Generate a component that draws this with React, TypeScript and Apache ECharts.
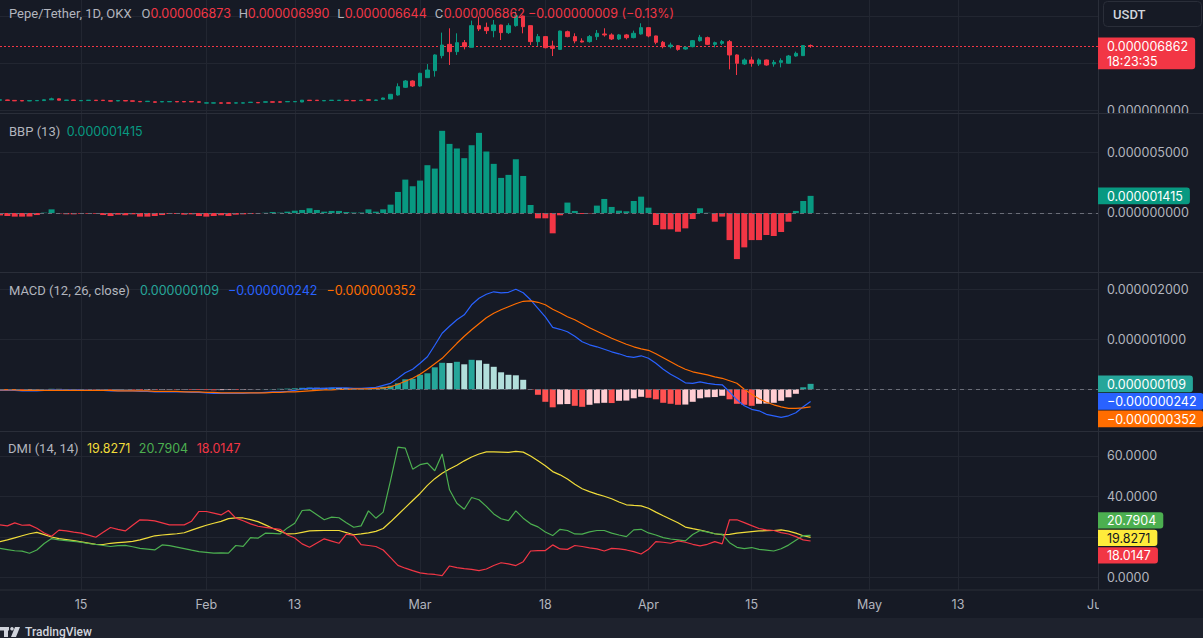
import React, { useEffect, useRef } from "react";
import * as echarts from "echarts";

// ---------------- DATA (prices and BBP/MACD in micro‑USDT, i.e. ×1e-6) ----------------
const FIRST_DATE = "2024-01-04";
const LAST_DATE = "2024-06-01";

const OPEN = [
  1.10, 1.12, 1.08, 1.06, 1.02, 1.04, 1.06, 1.14, 1.24, 1.08,
  1.12, 1.04, 1.07, 1.10, 1.10, 1.04, 1.02, 1.06, 1.03, 0.97,
  0.95, 0.93, 0.92, 0.93, 0.96, 0.96, 0.96, 0.93, 0.79, 0.79,
  0.82, 0.82, 0.79, 0.79, 0.85, 0.86, 0.89, 0.93, 0.93, 0.93,
  0.93, 0.91, 1.10, 1.10, 1.03, 1.07, 1.07, 1.10, 1.07, 1.06,
  1.14, 1.08, 1.19, 1.23, 1.65, 2.46, 3.13, 2.60, 3.48, 4.22,
  5.81, 7.00, 6.23, 7.18, 6.69, 8.98, 8.80, 8.45, 9.05, 8.24,
  8.98, 10.00, 8.98, 7.29, 7.82, 6.83, 6.47, 8.34, 7.82, 7.36,
  7.29, 7.82, 8.10, 8.00, 7.57, 8.00, 7.71, 8.10, 8.77, 7.89,
  7.22, 6.76, 6.86, 6.51, 6.76, 7.39, 7.71, 7.00, 7.11, 7.29,
  5.88, 4.93, 5.35, 4.93, 5.35, 4.93, 5.10, 5.00, 5.77, 5.81, 6.873,
];
const HIGH = [
  1.16, 1.14, 1.10, 1.08, 1.08, 1.09, 1.17, 1.36, 1.27, 1.13,
  1.14, 1.09, 1.12, 1.12, 1.12, 1.06, 1.08, 1.08, 1.05, 0.99,
  1.01, 0.95, 0.97, 0.98, 0.98, 0.98, 0.98, 0.95, 0.84, 0.84,
  0.84, 0.84, 0.84, 0.84, 0.91, 0.88, 0.95, 0.95, 0.95, 0.98,
  0.98, 1.12, 1.12, 1.12, 1.09, 1.12, 1.12, 1.12, 1.09, 1.12,
  1.22, 1.14, 1.36, 1.76, 2.88, 3.23, 3.20, 4.00, 4.92, 5.95,
  8.24, 8.70, 8.17, 7.46, 9.51, 9.93, 9.30, 9.58, 9.08, 9.23,
  10.46, 10.05, 9.00, 8.10, 7.85, 7.39, 8.45, 8.45, 8.17, 7.64,
  7.99, 8.52, 8.70, 8.17, 8.10, 8.10, 8.45, 9.23, 8.80, 7.92,
  7.36, 7.18, 6.93, 6.76, 7.46, 8.00, 7.82, 7.29, 7.46, 7.46,
  5.95, 5.52, 5.70, 5.52, 5.40, 5.35, 5.52, 5.88, 6.23, 6.93, 6.990,
];
const LOW = [
  1.08, 1.06, 1.01, 1.00, 1.00, 1.02, 1.04, 1.12, 1.08, 1.06,
  1.05, 1.02, 1.05, 1.04, 1.04, 0.98, 1.00, 1.00, 0.97, 0.91,
  0.93, 0.86, 0.90, 0.91, 0.90, 0.90, 0.90, 0.87, 0.77, 0.77,
  0.76, 0.76, 0.77, 0.77, 0.83, 0.80, 0.87, 0.87, 0.87, 0.91,
  0.91, 0.89, 1.04, 1.04, 1.01, 1.05, 1.05, 1.04, 1.01, 1.04,
  1.08, 1.06, 1.17, 1.20, 1.58, 2.40, 2.50, 2.53, 3.45, 3.59,
  5.52, 4.82, 5.88, 6.47, 6.69, 8.41, 8.10, 7.75, 7.46, 8.10,
  8.87, 8.17, 6.93, 6.83, 6.58, 5.77, 6.45, 7.75, 7.11, 7.20,
  7.18, 7.46, 7.82, 7.46, 7.46, 7.53, 7.64, 8.03, 7.75, 7.01,
  6.58, 6.58, 6.33, 6.44, 6.69, 7.29, 6.93, 6.69, 6.93, 4.36,
  3.76, 4.82, 4.64, 4.72, 4.75, 4.64, 4.57, 4.93, 5.70, 5.77, 6.644,
];
const CLOSE = [
  1.14, 1.08, 1.03, 1.02, 1.06, 1.07, 1.14, 1.24, 1.10, 1.11,
  1.07, 1.07, 1.10, 1.06, 1.06, 1.00, 1.06, 1.02, 0.99, 0.93,
  0.99, 0.88, 0.95, 0.96, 0.92, 0.92, 0.92, 0.89, 0.82, 0.82,
  0.78, 0.78, 0.82, 0.82, 0.89, 0.82, 0.93, 0.89, 0.89, 0.96,
  0.96, 1.10, 1.06, 1.06, 1.07, 1.10, 1.10, 1.06, 1.03, 1.10,
  1.10, 1.12, 1.33, 1.72, 2.53, 3.13, 2.60, 3.94, 4.29, 5.88,
  6.93, 6.23, 7.18, 6.76, 8.98, 8.63, 8.45, 9.05, 8.24, 8.98,
  10.03, 8.87, 7.29, 7.82, 6.65, 6.58, 8.41, 7.82, 7.36, 7.25,
  7.82, 8.17, 8.00, 7.57, 8.00, 7.71, 8.17, 8.77, 7.89, 7.22,
  6.76, 6.93, 6.47, 6.69, 7.39, 7.75, 7.00, 7.18, 7.29, 5.88,
  5.00, 5.35, 5.00, 5.35, 4.82, 5.10, 5.28, 5.77, 6.05, 6.871, 6.862,
];
const BBP = [
  -0.20, -0.25, -0.30, -0.30, -0.30, -0.17, 0.03, 0.30, -0.03, -0.11,
  -0.11, -0.06, -0.06, -0.06, -0.17, -0.25, -0.14, -0.19, -0.11, -0.30,
  -0.30, -0.25, -0.17, -0.08, -0.08, -0.14, -0.11, -0.25, -0.30, -0.25,
  -0.19, -0.25, -0.14, -0.11, -0.08, -0.03, 0.02, 0.08, 0.03, 0.11,
  0.19, 0.25, 0.39, 0.25, 0.11, 0.17, 0.17, 0.08, 0.04, 0.04,
  0.30, 0.11, 0.30, 0.69, 1.74, 2.76, 2.21, 2.68, 3.95, 3.67,
  6.79, 5.71, 5.33, 4.53, 5.60, 6.62, 5.08, 4.06, 2.90, 3.15,
  4.44, 3.06, 0.66, -0.44, -0.44, -1.68, -0.19, 0.86, 0.17, -0.08,
  -0.03, 0.61, 1.16, 0.50, 0.19, 0.14, 0.99, 1.35, 0.44, -0.99,
  -1.35, -1.35, -1.55, -1.27, -0.50, 0.39, 0.02, -0.72, -0.30, -2.24,
  -3.81, -2.84, -2.24, -2.24, -1.82, -1.90, -1.57, -0.72, 0.17, 0.99, 1.415,
];
const MACD_HIST = [
  -0.010, -0.012, -0.010, -0.012, -0.010, -0.008, 0.005, 0.010, 0.008, 0.006,
  0.005, 0.004, -0.004, -0.006, -0.005, -0.010, -0.008, -0.006, -0.010, -0.015,
  -0.012, -0.014, -0.010, -0.008, -0.010, -0.007, -0.012, -0.014, -0.016, -0.020,
  -0.016, -0.012, -0.014, -0.010, -0.005, -0.003, 0.004, 0.006, 0.010, 0.014,
  0.020, 0.030, 0.035, 0.030, 0.028, 0.030, 0.026, 0.022, 0.016, 0.014,
  0.020, 0.025, 0.050, 0.070, 0.120, 0.200, 0.210, 0.290, 0.320, 0.440,
  0.530, 0.525, 0.550, 0.500, 0.590, 0.580, 0.510, 0.450, 0.340, 0.290,
  0.280, 0.190, -0.010, -0.110, -0.250, -0.360, -0.300, -0.295, -0.330, -0.350,
  -0.310, -0.280, -0.270, -0.275, -0.230, -0.225, -0.180, -0.150, -0.170, -0.200,
  -0.270, -0.290, -0.310, -0.305, -0.250, -0.180, -0.160, -0.155, -0.130, -0.200,
  -0.290, -0.310, -0.330, -0.290, -0.285, -0.270, -0.230, -0.160, -0.090, 0.040, 0.109,
];
const MACD_LINE = [
  -0.02, -0.02, -0.02, -0.03, -0.03, -0.03, -0.02, -0.01, -0.01, -0.01,
  -0.01, -0.01, -0.02, -0.02, -0.02, -0.03, -0.03, -0.03, -0.03, -0.04,
  -0.04, -0.05, -0.05, -0.05, -0.05, -0.05, -0.06, -0.06, -0.07, -0.08,
  -0.08, -0.08, -0.08, -0.08, -0.07, -0.07, -0.06, -0.05, -0.05, -0.04,
  -0.02, 0.01, 0.02, 0.02, 0.02, 0.03, 0.03, 0.03, 0.02, 0.02,
  0.03, 0.04, 0.08, 0.12, 0.22, 0.33, 0.40, 0.52, 0.65, 0.88,
  1.12, 1.26, 1.39, 1.49, 1.69, 1.82, 1.90, 1.95, 1.93, 1.94,
  2.00, 1.93, 1.79, 1.62, 1.45, 1.24, 1.20, 1.15, 1.06, 0.95,
  0.89, 0.85, 0.80, 0.75, 0.71, 0.66, 0.64, 0.67, 0.62, 0.52,
  0.40, 0.30, 0.22, 0.13, 0.12, 0.15, 0.12, 0.10, 0.09, -0.05,
  -0.21, -0.33, -0.40, -0.43, -0.50, -0.53, -0.56, -0.53, -0.47, -0.35, -0.242,
];
const MACD_SIGNAL = [
  -0.01, -0.01, -0.01, -0.02, -0.02, -0.02, -0.02, -0.02, -0.02, -0.02,
  -0.02, -0.02, -0.02, -0.02, -0.02, -0.02, -0.03, -0.03, -0.03, -0.03,
  -0.03, -0.04, -0.04, -0.04, -0.04, -0.05, -0.05, -0.05, -0.06, -0.06,
  -0.07, -0.07, -0.07, -0.07, -0.07, -0.07, -0.07, -0.06, -0.06, -0.05,
  -0.05, -0.04, -0.03, -0.02, -0.01, -0.01, 0.00, 0.00, 0.01, 0.01,
  0.01, 0.02, 0.03, 0.05, 0.10, 0.16, 0.22, 0.30, 0.40, 0.51,
  0.62, 0.77, 0.92, 1.06, 1.19, 1.31, 1.43, 1.52, 1.59, 1.65,
  1.71, 1.76, 1.77, 1.74, 1.69, 1.60, 1.53, 1.45, 1.39, 1.31,
  1.23, 1.16, 1.09, 1.02, 0.96, 0.90, 0.85, 0.81, 0.78, 0.71,
  0.63, 0.55, 0.47, 0.40, 0.35, 0.32, 0.29, 0.25, 0.22, 0.17,
  0.12, 0.00, -0.10, -0.19, -0.26, -0.31, -0.35, -0.38, -0.38, -0.37, -0.352,
];
const ADX = [
  17.7, 18.6, 19.6, 20.6, 21.6, 22.3, 21.2, 20.0, 19.2, 18.7,
  18.2, 17.6, 17.0, 16.4, 16.3, 16.9, 17.2, 17.5, 17.8, 18.6,
  19.6, 20.6, 21.0, 21.3, 21.6, 22.1, 23.4, 24.6, 25.8, 26.8,
  27.7, 29.1, 29.4, 29.4, 28.6, 27.6, 26.0, 24.3, 22.8, 21.5,
  21.6, 22.3, 23.0, 23.1, 23.2, 23.2, 23.2, 22.2, 21.1, 21.5,
  22.0, 22.8, 24.2, 27.5, 31.0, 34.5, 38.0, 41.5, 45.5, 48.8,
  51.5, 53.6, 55.4, 57.6, 59.5, 61.0, 62.0, 62.0, 61.9, 61.8,
  62.3, 61.9, 60.0, 57.6, 55.2, 52.3, 50.7, 48.6, 46.0, 43.8,
  42.4, 41.2, 40.1, 38.9, 37.3, 35.9, 35.6, 35.4, 34.2, 32.3,
  30.5, 28.8, 27.0, 24.9, 24.1, 23.4, 22.6, 21.6, 21.1, 21.3,
  21.9, 22.3, 22.7, 23.0, 23.1, 23.2, 23.5, 22.9, 21.9, 20.6, 19.8271,
];
const PLUS_DI = [
  14.4, 13.8, 13.2, 13.0, 12.0, 13.6, 16.8, 19.2, 18.6, 18.2,
  17.8, 17.4, 16.8, 16.3, 15.8, 15.3, 15.7, 15.9, 15.2, 14.4,
  14.0, 13.6, 16.1, 15.7, 15.0, 14.3, 13.5, 12.8, 12.4, 12.0,
  12.2, 12.0, 15.8, 15.4, 19.7, 19.4, 21.9, 21.8, 21.5, 24.5,
  26.8, 33.1, 33.4, 31.0, 28.5, 29.8, 29.5, 27.0, 24.8, 25.5,
  32.9, 29.3, 32.3, 48.0, 64.4, 63.9, 53.5, 55.7, 56.5, 52.7,
  61.0, 43.3, 36.7, 33.7, 39.5, 38.4, 35.1, 31.4, 29.0, 28.1,
  32.9, 29.3, 26.5, 25.0, 22.5, 20.7, 23.8, 23.2, 21.5, 21.4,
  22.5, 23.2, 23.2, 21.9, 21.0, 20.2, 23.5, 23.8, 22.0, 21.0,
  19.7, 19.0, 18.6, 18.1, 21.2, 23.2, 22.4, 21.6, 21.4, 17.2,
  14.9, 14.3, 14.8, 13.9, 13.5, 13.1, 14.2, 16.0, 18.4, 20.7, 20.7904,
];
const MINUS_DI = [
  26.0, 25.5, 27.0, 25.8, 26.0, 24.3, 22.0, 20.4, 23.4, 23.0,
  22.4, 21.9, 20.9, 19.9, 22.3, 24.7, 23.8, 23.0, 25.8, 28.5,
  28.3, 28.0, 27.0, 26.0, 26.0, 26.0, 27.8, 32.6, 32.6, 31.8,
  30.9, 33.1, 29.3, 28.0, 26.5, 25.3, 24.8, 24.3, 23.8, 21.0,
  19.5, 16.6, 14.9, 17.0, 19.1, 18.0, 16.9, 21.4, 20.8, 16.2,
  15.8, 15.3, 13.6, 9.8, 6.0, 4.6, 3.4, 2.3, 1.8, 1.5,
  0.9, 5.7, 4.9, 4.4, 4.0, 3.4, 4.2, 5.9, 7.3, 6.7,
  5.9, 7.8, 13.1, 13.3, 13.3, 16.1, 14.1, 13.9, 15.8, 15.3,
  14.6, 14.1, 13.1, 14.4, 14.1, 13.6, 12.8, 11.6, 13.9, 17.7,
  17.4, 16.9, 18.1, 17.4, 16.4, 15.6, 16.4, 17.7, 16.6, 28.5,
  28.5, 27.1, 25.6, 24.2, 23.5, 23.2, 22.2, 21.5, 20.2, 18.6, 18.0147,
];

const TIME_TICK_DATES = [
  "2024-01-15", "2024-02-01", "2024-02-13", "2024-03-01", "2024-03-18",
  "2024-04-01", "2024-04-15", "2024-05-01", "2024-05-13", "2024-06-01",
];
const TIME_TICK_LABELS = ["15", "Feb", "13", "Mar", "18", "Apr", "15", "May", "13", "Jun"];

const PRICE_GRID_TICKS = [0, 5, 10];
const PRICE_LABEL_TICKS = [0];
const BBP_TICKS = [0, 5];
const MACD_GRID_TICKS = [0, 1, 2];
const MACD_LABEL_TICKS = [1, 2];
const DMI_GRID_TICKS = [0, 20, 40, 60];
const DMI_LABEL_TICKS = [0, 40, 60];

// ---------------- STYLE / LAYOUT ----------------
const W = 1203;
const H = 638;
const BG = "#161a25";
const GRID_C = "#222631";
const SEP_C = "#2a2e39";
const TEXT_C = "#b2b5be";
const UP = "#089981";
const DOWN = "#f23645";
const NUM_FONT = "Inter";
const TXT_FONT = "Roboto";
const FS = 12.5;
const AXIS_X = 1098;

const GRIDS = [
  { top: 0, height: 113 },
  { top: 114, height: 158 },
  { top: 273, height: 158 },
  { top: 432, height: 158 },
];
const Y_RANGES = [
  { min: -0.254, max: 11.69 },
  { min: -4.876, max: 8.18 },
  { min: -0.834, max: 2.326 },
  { min: -6.17, max: 71.85 },
];

// ---------------- helpers ----------------
function buildCategories(): string[] {
  const out: string[] = [];
  const start = Date.parse(FIRST_DATE + "T00:00:00Z");
  const end = Date.parse(LAST_DATE + "T00:00:00Z");
  for (let t = start; t <= end; t += 86400000) out.push(new Date(t).toISOString().slice(0, 10));
  return out;
}
const CATEGORIES = buildCategories();
const TICK_INDEX = new Set(TIME_TICK_DATES.map((d) => CATEGORIES.indexOf(d)));
const TICK_LABEL: Record<string, string> = {};
TIME_TICK_DATES.forEach((d, i) => (TICK_LABEL[d] = TIME_TICK_LABELS[i]));

const MINUS = "\u2212";
const fmtMicro = (v: number) => (v < 0 ? MINUS : "") + (Math.abs(v) * 1e-6).toFixed(9);
const fmtDmi = (v: number) => v.toFixed(4);

function histColor(v: number, prev: number) {
  if (v >= 0) return v >= prev ? "#26a69a" : "#b2dfdb";
  return v < prev ? "#ff5252" : "#ffcdd2";
}

function xAxis(gridIndex: number, labels: boolean) {
  return {
    type: "category",
    gridIndex,
    data: CATEGORIES,
    boundaryGap: false,
    axisLine: { show: false },
    axisTick: { show: false },
    axisLabel: labels
      ? {
          show: true,
          interval: (i: number) => TICK_INDEX.has(i),
          formatter: (v: string) => TICK_LABEL[v] || "",
          color: TEXT_C,
          fontSize: FS,
          fontFamily: NUM_FONT,
          margin: 8,
        }
      : { show: false },
    splitLine: {
      show: true,
      interval: (i: number) => TICK_INDEX.has(i),
      lineStyle: { color: GRID_C, width: 1 },
    },
  };
}

function yAxis(i: number, gridTicks: number[], labelTicks: number[], fmt: (v: number) => string) {
  return {
    type: "value",
    gridIndex: i,
    position: "right",
    min: Y_RANGES[i].min,
    max: Y_RANGES[i].max,
    axisLine: { show: false },
    axisTick: { show: false, customValues: gridTicks },
    axisLabel: {
      show: true,
      customValues: labelTicks,
      formatter: fmt,
      color: TEXT_C,
      fontSize: FS,
      fontFamily: NUM_FONT,
      margin: 9,
    },
    splitLine: { show: true, lineStyle: { color: GRID_C, width: 1 } },
  };
}

function zeroDash() {
  return {
    silent: true,
    symbol: "none",
    label: { show: false },
    lineStyle: { color: "#6a6d78", type: [4, 4], width: 1 },
    data: [{ yAxis: 0 }],
  };
}

function buildOption(): any {
  const candles = OPEN.map((o, i) => [o, CLOSE[i], LOW[i], HIGH[i]]);
  const bbp = BBP.map((v) => ({ value: v, itemStyle: { color: v >= 0 ? UP : DOWN } }));
  const hist = MACD_HIST.map((v, i) => ({
    value: v,
    itemStyle: { color: histColor(v, i > 0 ? MACD_HIST[i - 1] : v) },
  }));
  return {
    animation: false,
    backgroundColor: BG,
    grid: GRIDS.map((g) => ({ left: -1, right: W - AXIS_X, top: g.top, height: g.height })),
    xAxis: [xAxis(0, false), xAxis(1, false), xAxis(2, false), xAxis(3, true)],
    yAxis: [
      yAxis(0, PRICE_GRID_TICKS, PRICE_LABEL_TICKS, fmtMicro),
      yAxis(1, BBP_TICKS, BBP_TICKS, fmtMicro),
      yAxis(2, MACD_GRID_TICKS, MACD_LABEL_TICKS, fmtMicro),
      yAxis(3, DMI_GRID_TICKS, DMI_LABEL_TICKS, fmtDmi),
    ],
    series: [
      {
        type: "candlestick",
        xAxisIndex: 0,
        yAxisIndex: 0,
        data: candles,
        barWidth: 4,
        z: 3,
        itemStyle: { color: UP, color0: DOWN, borderColor: UP, borderColor0: DOWN, borderWidth: 1 },
      },
      { type: "bar", xAxisIndex: 1, yAxisIndex: 1, data: bbp, barWidth: 6, markLine: zeroDash() },
      { type: "bar", xAxisIndex: 2, yAxisIndex: 2, data: hist, barWidth: 6, markLine: zeroDash() },
      {
        type: "line", xAxisIndex: 2, yAxisIndex: 2, data: MACD_LINE, symbol: "none", z: 3,
        lineStyle: { color: "#2962ff", width: 1.2 },
      },
      {
        type: "line", xAxisIndex: 2, yAxisIndex: 2, data: MACD_SIGNAL, symbol: "none", z: 3,
        lineStyle: { color: "#ff6d00", width: 1.2 },
      },
      {
        type: "line", xAxisIndex: 3, yAxisIndex: 3, data: ADX, symbol: "none",
        lineStyle: { color: "#f0dc3a", width: 1.2 },
      },
      {
        type: "line", xAxisIndex: 3, yAxisIndex: 3, data: PLUS_DI, symbol: "none",
        lineStyle: { color: "#4caf50", width: 1.2 },
      },
      {
        type: "line", xAxisIndex: 3, yAxisIndex: 3, data: MINUS_DI, symbol: "none",
        lineStyle: { color: "#f23645", width: 1.2 },
      },
    ],
  };
}

function txt(x: number, y: number, text: string, fill: string, font: string, extra: any = {}) {
  return {
    type: "text",
    x,
    y,
    z: 100,
    silent: true,
    style: {
      text,
      fill,
      font,
      textAlign: "left",
      align: "left",
      textVerticalAlign: "middle",
      verticalAlign: "middle",
      ...extra,
    },
  };
}
function rect(x: number, y: number, w: number, h: number, fill: string, r: any = 0, z = 90, extra: any = {}) {
  return { type: "rect", z, silent: true, shape: { x, y, width: w, height: h, r }, style: { fill, ...extra } };
}

function buildGraphics(chart: any): any[] {
  const ctx = document.createElement("canvas").getContext("2d") as CanvasRenderingContext2D;
  const numFont = `${FS}px ${NUM_FONT}`;
  ctx.font = numFont;
  const tw = (s: string) => ctx.measureText(s).width;
  const py = (axis: number, v: number) => chart.convertToPixel({ yAxisIndex: axis }, v) as number;
  const last = CLOSE.length - 1;
  const g: any[] = [];

  // bottom strip and cover rects
  g.push(rect(0, 618, W, 20, "#1e222d", 0, 80));
  g.push(rect(AXIS_X + 1, 113.5, W - AXIS_X, 6, BG, 0, 85));
  g.push(rect(AXIS_X + 1, 591, W - AXIS_X, 26, BG, 0, 85));
  // separators
  [113.5, 272.5, 431.5, 590].forEach((y) =>
    g.push({ type: "line", z: 95, silent: true, shape: { x1: 0, y1: y, x2: W, y2: y }, style: { stroke: SEP_C, lineWidth: 1 } })
  );
  g.push({ type: "line", z: 95, silent: true, shape: { x1: AXIS_X + 0.5, y1: 0, x2: AXIS_X + 0.5, y2: 590 }, style: { stroke: SEP_C, lineWidth: 1 } });

  // current price dotted line (from the last close through the price scale)
  const pY = py(0, CLOSE[last]);
  const lineY = Math.round(pY) + 0.5;
  g.push({
    type: "line", z: 2, silent: true,
    shape: { x1: 0, y1: lineY, x2: AXIS_X, y2: lineY },
    style: { stroke: DOWN, lineWidth: 1, lineDash: [2, 2] },
  });

  // header
  const hy = 13.3;
  const tfont = `13px ${TXT_FONT}`;
  g.push(txt(9, hy, "Pepe/Tether, 1D, OKX", TEXT_C, tfont));
  const chg = CLOSE[last] - CLOSE[last - 1];
  const pct = (chg / CLOSE[last - 1]) * 100;
  const headColor = chg >= 0 ? UP : DOWN;
  const parts: [string, string][] = [
    ["O", fmtMicro(OPEN[last])],
    ["H", fmtMicro(HIGH[last])],
    ["L", fmtMicro(LOW[last])],
    ["C", fmtMicro(CLOSE[last])],
  ];
  let x = 141.5;
  parts.forEach(([k, v]) => {
    g.push(txt(x, hy, k, TEXT_C, tfont));
    x += k === "L" ? 7.5 : 9;
    g.push(txt(x, hy, v, headColor, numFont));
    x += tw(v) + 8;
  });
  const chgText = `${fmtMicro(chg)} (${pct < 0 ? MINUS : "+"}${Math.abs(pct).toFixed(2)}%)`;
  g.push(txt(528, hy, chgText, headColor, numFont));

  // pane titles
  g.push(txt(9, 131.7, "BBP (13)", TEXT_C, tfont));
  g.push(txt(66.7, 131.7, fmtMicro(BBP[last]), UP, numFont));
  g.push(txt(9, 290, "MACD (12, 26, close)", TEXT_C, tfont));
  const macdVals: [number, string][] = [
    [MACD_HIST[last], "#26a69a"],
    [MACD_LINE[last], "#2962ff"],
    [MACD_SIGNAL[last], "#ff6d00"],
  ];
  x = 140;
  macdVals.forEach(([v, c]) => {
    const s = fmtMicro(v);
    g.push(txt(x, 290, s, c, numFont));
    x += tw(s) + 9;
  });
  g.push(txt(8, 448.3, "DMI (14, 14)", TEXT_C, tfont));
  const dmiVals: [number, string][] = [
    [ADX[last], "#f0dc3a"],
    [PLUS_DI[last], "#4caf50"],
    [MINUS_DI[last], "#f23645"],
  ];
  x = 87;
  dmiVals.forEach(([v, c]) => {
    const s = fmtDmi(v);
    g.push(txt(x, 448.3, s, c, numFont));
    x += tw(s) + 8.5;
  });

  // USDT button
  g.push(rect(1103.5, 1.5, 98, 25, BG, 4, 90, { stroke: SEP_C, lineWidth: 1 }));
  g.push(txt(1113, 14, "USDT", "#d1d4dc", `500 13px ${TXT_FONT}`));

  // value boxes
  const box = (yc: number, h: number, text: string, fill: string, color: string) => {
    g.push(rect(AXIS_X, yc - h / 2, tw(text) + 16, h, fill, [0, 3, 3, 0], 96));
    g.push(txt(AXIS_X + 9, yc + 0.5, text, color, numFont, { }));
  };
  // price box (two lines)
  const pText = fmtMicro(CLOSE[last]);
  g.push(rect(AXIS_X, pY - 8.2, tw(pText) + 16, 31.8, DOWN, [0, 3, 3, 0], 96));
  g.push(txt(AXIS_X + 9, pY + 0.5, pText, "#ffffff", numFont));
  g.push(txt(AXIS_X + 9, pY + 15.8, "18:23:35", "#ffffff", numFont));

  box(py(1, BBP[last]), 16.8, fmtMicro(BBP[last]), UP, "#ffffff");

  // MACD: push overlapping boxes downwards
  const mItems = [
    { v: MACD_HIST[last], fill: "#26a69a" },
    { v: MACD_LINE[last], fill: "#2962ff" },
    { v: MACD_SIGNAL[last], fill: "#ff6d00" },
  ].sort((a, b) => b.v - a.v);
  const gap = 17.5;
  let prevY = -1e9;
  mItems.forEach((it) => {
    let y = py(2, it.v);
    if (y < prevY + gap) y = prevY + gap;
    prevY = y;
    box(y, 16.8, fmtMicro(it.v), it.fill, "#ffffff");
  });

  // DMI: centre the overlapping cluster on its mean
  const dItems = [
    { v: PLUS_DI[last], fill: "#4caf50", color: "#ffffff" },
    { v: ADX[last], fill: "#ffeb3b", color: "#131722" },
    { v: MINUS_DI[last], fill: "#f23645", color: "#ffffff" },
  ].sort((a, b) => b.v - a.v);
  const ys = dItems.map((it) => py(3, it.v));
  const mean = ys.reduce((a, b) => a + b, 0) / ys.length;
  dItems.forEach((it, i) => box(mean + (i - (dItems.length - 1) / 2) * gap, 16.2, fmtDmi(it.v), it.fill, it.color));

  // TradingView footer mark
  g.push(rect(0, 627, 9, 3.5, "#d1d4dc", 0, 99));
  g.push(rect(4, 627, 4, 10, "#d1d4dc", 0, 99));
  g.push({ type: "circle", z: 99, silent: true, shape: { cx: 12, cy: 628.8, r: 1.8 }, style: { fill: "#d1d4dc" } });
  g.push({ type: "polygon", z: 99, silent: true, shape: { points: [[15, 627], [20, 627], [16, 637], [11, 637]] }, style: { fill: "#d1d4dc" } });
  g.push(txt(25, 631.5, "TradingView", "#d1d4dc", `500 12px ${TXT_FONT}`));
  return g;
}

export default function App() {
  const ref = useRef<HTMLDivElement>(null);
  useEffect(() => {
    if (!ref.current) return;
    const chart = echarts.init(ref.current, null, { renderer: "svg", width: W, height: H });
    chart.setOption(buildOption());
    chart.setOption({ graphic: { elements: buildGraphics(chart) } });
    return () => chart.dispose();
  }, []);
  return <div ref={ref} style={{ position: "absolute", left: 0, top: 0, width: W, height: H, background: BG }} />;
}
